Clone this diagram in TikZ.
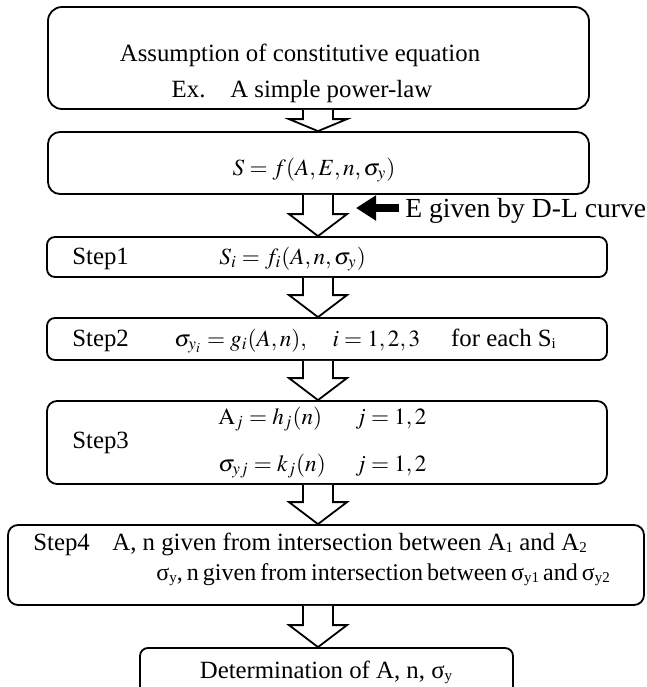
\documentclass[tikz,border=0pt]{standalone}
\usepackage{mathptmx}
\usepackage[no-math]{fontspec}
\setmainfont{Liberation Serif}
\usetikzlibrary{calc, arrows.meta}

\tikzset{
  flowbox/.style={draw, line width=0.9pt, rounded corners=#1, inner sep=0pt},
  flowbox/.default=4pt,
  txt/.style={anchor=base west, inner sep=0pt},
  ctxt/.style={anchor=base, inner sep=0pt},
  eqfont/.style={font=\fontsize{11.6}{14}\selectfont},
  hollow/.style={draw, line width=0.9pt, fill=white, line join=miter},
  fatarrow/.style={line width=4pt, -{Triangle[length=10pt, width=12pt]}},
}
\newcommand{\sub}[1]{\raisebox{-0.25ex}{\fontsize{7.5}{8}\selectfont #1}}
% hollow block arrow between two boxes: from, to, head length
\newcommand{\flowarrow}[3]{%
  \draw[hollow] ($(#1.south -| ax)+(-15,0)$) -- ($(#2.north -| ax)+(-15,-#3)$)
    -- ++(-14,0) -- (#2.north -| ax) -- ($(#2.north -| ax)+(29,-#3)$)
    -- ++(-14,0) -- ($(#1.south -| ax)+(15,0)$);
}

\begin{document}
\begin{tikzpicture}[x=0.5pt, y=-0.5pt, font=\fontsize{12.4}{15}\selectfont]

  \useasboundingbox (0,0) rectangle (647,687);
  \clip (0,0) rectangle (647,687);

  \coordinate (ax) at (318,0);

  % boxes
  \node[flowbox=7pt, minimum width=270.5pt, minimum height=51pt]
    (assume) at (318.5,58) {};
  \node[flowbox=6pt, minimum width=270.5pt, minimum height=31pt]
    (law) at (318.5,163) {};
  \node[flowbox, minimum width=280pt, minimum height=20pt]
    (step1) at (327,257) {};
  \node[flowbox, minimum width=280pt, minimum height=21pt]
    (step2) at (327,339) {};
  \node[flowbox=5pt, minimum width=280pt, minimum height=41.5pt]
    (step3) at (327,442.5) {};
  \node[flowbox=5pt, minimum width=318pt, minimum height=40pt]
    (step4) at (326,565) {};
  \node[flowbox, minimum width=186.5pt, minimum height=26pt]
    (result) at (326.5,674) {};

  % texts
  \node[ctxt] (assumetxt) at (300,61) {Assumption of constitutive equation};
  \node[ctxt] (extxt) at (302,97) {Ex.\hspace{1em}A simple power-law};
  \node[ctxt, eqfont] (lawtxt) at (314,175) {$S = f(A,E,n,\sigma_y)$};

  \node[txt] (s1name) at (72,264) {Step1};
  \node[txt, eqfont] (s1eq) at (219,264) {$S_i = f_i(A,n,\sigma_y)$};

  \node[txt] (s2name) at (72,346) {Step2};
  \node[txt] (s2eq) at (174,346)
    {\fontsize{11.6}{14}\selectfont$\sigma_{y_i} = g_i(A,n),\quad i = 1,2,3$%
     \fontsize{12.4}{15}\selectfont\quad\ for each S\sub{i}};

  \node[txt] (s3name) at (72,448) {Step3};
  \node[txt, eqfont] (s3a) at (218,424) {$\mathrm{A}_j = h_j(n)$};
  \node[txt, eqfont] (s3aj) at (355,424) {$j = 1,2$};
  \node[txt, eqfont] (s3s) at (218,471) {$\sigma_{yj} = k_j(n)$};
  \node[txt, eqfont] (s3sj) at (355,471) {$j = 1,2$};

  \node[txt] (s4name) at (33,550) {Step4};
  \node[txt] (s4a) at (112,550)
    {A, n given from intersection between A\sub{1} and A\sub{2}};
  \node[txt, font=\fontsize{12}{15}\selectfont] (s4s) at (156,580)
    {\spaceskip=0.17em\relax
     σ\sub{y}, n given from intersection between σ\sub{y1} and σ\sub{y2}};

  \node[ctxt] (resulttxt) at (326,678) {Determination of A, n, σ\sub{y}};

  % input from the side
  \node[txt, font=\fontsize{13.8}{16}\selectfont] (elabel) at (405,217)
    {E given by D-L curve};
  \coordinate (etip) at (356,208);
  \draw[fatarrow, shorten <=3pt] (elabel.west |- etip) -- (etip);

  % arrows down
  \flowarrow{assume}{law}{12}
  \flowarrow{law}{step1}{22}
  \flowarrow{step1}{step2}{22}
  \flowarrow{step2}{step3}{22}
  \flowarrow{step3}{step4}{22}
  \flowarrow{step4}{result}{22}

\end{tikzpicture}
\end{document}
